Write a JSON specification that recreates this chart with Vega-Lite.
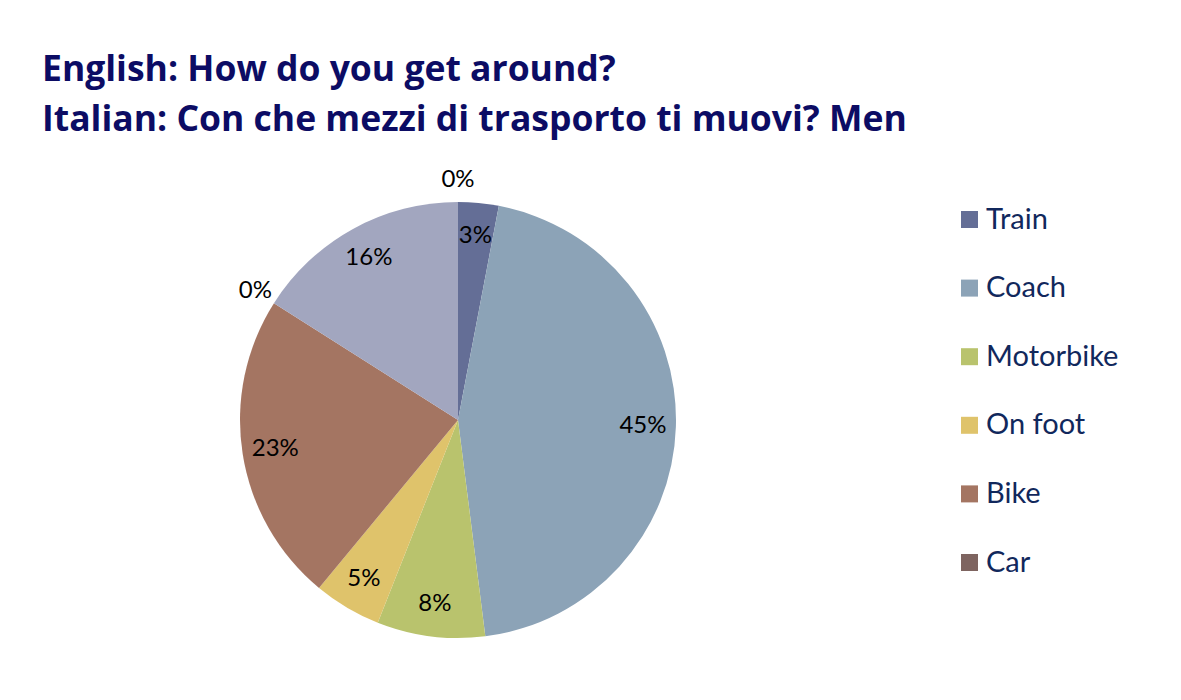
{
  "$schema": "https://vega.github.io/schema/vega-lite/v6.json",
  "autosize": "none",
  "width": 436,
  "height": 436,
  "padding": {"left": 240, "top": 202, "right": 505, "bottom": 62},
  "background": "white",
  "title": {
    "text": ["English: How do you get around?", "Italian: Con che mezzi di trasporto ti muovi? Men"],
    "anchor": "start",
    "frame": "group",
    "orient": "top",
    "baseline": "top",
    "offset": 0,
    "dx": -198,
    "dy": -30,
    "font": "Open Sans",
    "fontWeight": "bold",
    "fontSize": 35.5,
    "lineHeight": 50,
    "color": "#0C0C64"
  },
  "data": {
    "values": [
      {"mode": "Train", "value": 0.03},
      {"mode": "Coach", "value": 0.45},
      {"mode": "Motorbike", "value": 0.08},
      {"mode": "On foot", "value": 0.05},
      {"mode": "Bike", "value": 0.23},
      {"mode": "Car", "value": 0.0},
      {"mode": "Bus", "value": 0.16},
      {"mode": "Other", "value": 0.0}
    ]
  },
  "transform": [{"window": [{"op": "row_number", "as": "rank"}]}],
  "encoding": {
    "theta": {"field": "value", "type": "quantitative", "stack": true},
    "order": {"field": "rank", "type": "quantitative"}
  },
  "layer": [
    {
      "mark": {"type": "arc", "radius": 218, "stroke": null},
      "encoding": {
        "color": {
          "field": "mode",
          "type": "nominal",
          "scale": {
            "domain": ["Train", "Coach", "Motorbike", "On foot", "Bike", "Car", "Bus", "Other"],
            "range": ["#646E96", "#8CA3B7", "#B9C36D", "#DFC36B", "#A47562", "#7E6460", "#A2A6BF", "#C9B48E"]
          },
          "legend": {
            "values": ["Train", "Coach", "Motorbike", "On foot", "Bike", "Car"],
            "orient": "none",
            "legendX": 715,
            "legendY": 3,
            "title": null,
            "padding": 0,
            "symbolType": "square",
            "symbolSize": 289,
            "symbolStrokeWidth": 0,
            "labelFont": "Lato",
            "labelFontSize": 29,
            "labelColor": "#11285C",
            "labelOffset": 2,
            "rowPadding": 38.6
          }
        }
      }
    },
    {
      "mark": {"type": "text", "radius": 185, "font": "Lato", "fontSize": 24, "color": "black"},
      "encoding": {
        "text": {"field": "value", "type": "quantitative", "format": ".0%"},
        "opacity": {"condition": {"test": "datum.value > 0", "value": 1}, "value": 0}
      }
    },
    {
      "mark": {"type": "text", "radius": 240, "font": "Lato", "fontSize": 24, "color": "black"},
      "encoding": {
        "text": {"field": "value", "type": "quantitative", "format": ".0%"},
        "opacity": {"condition": {"test": "datum.value > 0", "value": 0}, "value": 1}
      }
    }
  ],
  "config": {"view": {"stroke": null}}
}
